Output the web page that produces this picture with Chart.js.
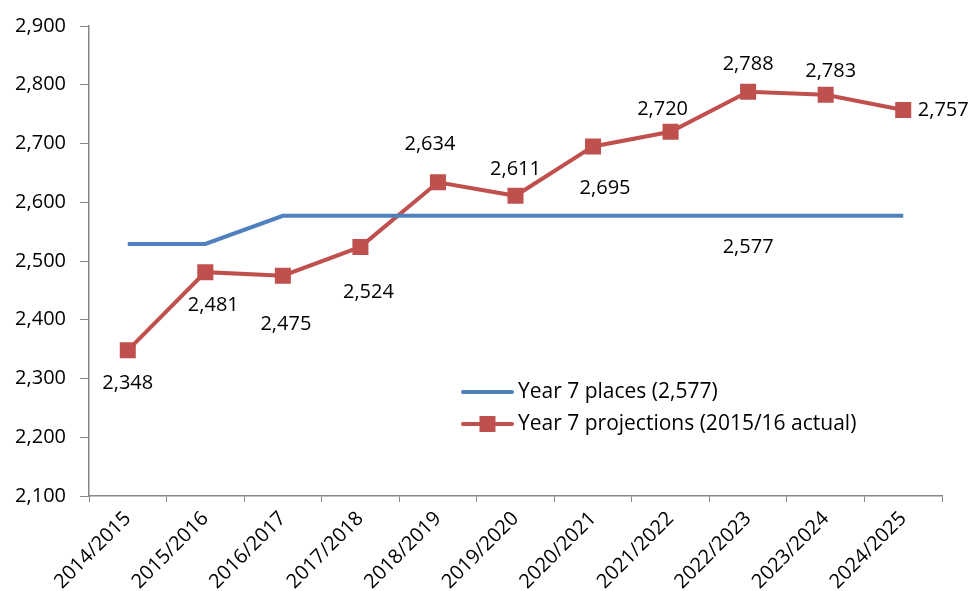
<!DOCTYPE html>
<html>
<head>
<meta charset="utf-8">
<script src="https://cdn.jsdelivr.net/npm/chart.js@4"></script>
<style>
html,body{margin:0;padding:0;background:#fff;}
#wrap{width:971px;height:591px;position:relative;}
</style>
</head>
<body>
<div id="wrap"><canvas id="chart" width="971" height="591"></canvas></div>
<script>
const years = ['2014/2015','2015/2016','2016/2017','2017/2018','2018/2019','2019/2020','2020/2021','2021/2022','2022/2023','2023/2024','2024/2025'];
const places = [2529,2529,2577,2577,2577,2577,2577,2577,2577,2577,2577];
const projections = [2348,2481,2475,2524,2634,2611,2695,2720,2788,2783,2757];
const placesLabel = 'Year 7 places (2,577)';
const projLabel = 'Year 7 projections (2015/16 actual)';

// label offsets from each point (px), like the hand-placed labels in the original
const projOffsets = [[0,33],[8,33],[3,49],[8,45],[-8,-38],[0,-26],[12,42],[-8,-22],[0,-28],[5,-23],[40,0]];
const placesLabelAt = {index:8, dx:0, dy:32};

const FONT = '"Open Sans", sans-serif';
const BLUE = '#4F81BD', RED = '#C0504D';
const fmt = v => v.toLocaleString('en-US');

const labelsPlugin = {
  id:'labelsPlugin',
  afterDatasetsDraw(chart){
    const c = chart.ctx;
    c.save();
    c.font = '20px ' + FONT;
    c.fillStyle = '#000';
    c.textAlign = 'center'; c.textBaseline = 'middle';
    const pm = chart.getDatasetMeta(1).data;
    pm.forEach((p,i)=>{
      const o = projOffsets[i];
      c.fillText(fmt(projections[i]), p.x+o[0], p.y+o[1]);
    });
    const bp = chart.getDatasetMeta(0).data[placesLabelAt.index];
    c.fillText(fmt(places[placesLabelAt.index]), bp.x+placesLabelAt.dx, bp.y+placesLabelAt.dy);

    // legend inside plot
    const lx = 463, ly = 392, gap = 32;
    c.textAlign = 'left';
    c.font = '21px ' + FONT;
    c.lineWidth = 4; c.lineCap = 'round';
    c.strokeStyle = BLUE;
    c.beginPath(); c.moveTo(lx,ly); c.lineTo(lx+49,ly); c.stroke();
    c.fillText(placesLabel, lx+55, ly);
    c.strokeStyle = RED;
    c.beginPath(); c.moveTo(lx,ly+gap); c.lineTo(lx+49,ly+gap); c.stroke();
    c.fillStyle = RED;
    c.fillRect(lx+24.5-8, ly+gap-8, 16, 16);
    c.fillStyle = '#000';
    c.fillText(projLabel, lx+55, ly+gap);
    c.restore();
  }
};

new Chart(document.getElementById('chart'), {
  type:'line',
  data:{
    labels: years,
    datasets:[
      {label:placesLabel, data:places, borderColor:BLUE, backgroundColor:BLUE, borderWidth:4, pointRadius:0, tension:0},
      {label:projLabel, data:projections, borderColor:RED, backgroundColor:RED, borderWidth:4, pointStyle:'rect', pointRadius:8.5, pointHoverRadius:8.5, tension:0}
    ]
  },
  options:{
    responsive:false, animation:false,
    layout:{padding:{top:22,right:29,left:0,bottom:0}},
    plugins:{legend:{display:false}, tooltip:{enabled:false}},
    scales:{
      x:{
        offset:true,
        grid:{display:true, drawOnChartArea:false, offset:true, tickLength:6, color:'#868686'},
        border:{color:'#868686', width:1.5},
        ticks:{minRotation:45, maxRotation:45, autoSkip:false, color:'#000', font:{family:FONT, size:20}, padding:5},
        afterFit(s){ s.height = 95; }
      },
      y:{
        min:2100, max:2900,
        grid:{display:true, drawOnChartArea:false, tickLength:9, color:'#868686'},
        border:{color:'#868686', width:1.5},
        ticks:{stepSize:100, color:'#000', font:{family:FONT, size:20}, padding:14, callback:v=>fmt(v)},
        afterFit(s){ s.width = 89; }
      }
    }
  },
  plugins:[labelsPlugin]
});
</script>
</body>
</html>
